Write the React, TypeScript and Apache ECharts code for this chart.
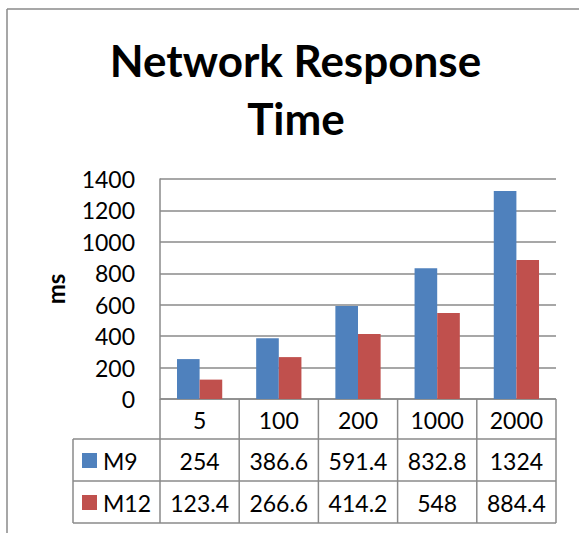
import React, { useEffect, useRef } from "react";
import * as echarts from "echarts";

// Load sizes (requests) and measured response times in ms
const categories = ["5", "100", "200", "1000", "2000"];
const seriesNames = ["M9", "M12"];
const m9Values = [254, 386.6, 591.4, 832.8, 1324];
const m12Values = [123.4, 266.6, 414.2, 548, 884.4];
const seriesColors = ["#4F81BD", "#C0504D"];

const FONT = "Lato, 'Noto Sans', sans-serif";
const LINE = "#8a8a8a";

// plot frame
const G_LEFT = 160;
const G_TOP = 179;
const G_W = 396;
const G_H = 220;
const G_BOTTOM = G_TOP + G_H;
const G_RIGHT = G_LEFT + G_W;

// data table under the plot
const LEGEND_LEFT = 73;
const ROW_EDGES = [G_BOTTOM, 439, 481, 523];

export default function App() {
  const ref = useRef<HTMLDivElement>(null);

  useEffect(() => {
    if (!ref.current) return;
    const chart = echarts.init(ref.current, undefined, { renderer: "svg" });

    const colW = G_W / categories.length;
    const graphics: any[] = [];
    const line = (x1: number, y1: number, x2: number, y2: number, w = 1.5) => ({
      type: "line",
      shape: { x1, y1, x2, y2 },
      style: { stroke: LINE, lineWidth: w },
      silent: true,
    });

    // outer chart frame (top and left edges)
    graphics.push(line(7, 9, 579, 9));
    graphics.push(line(7, 9, 7, 533));

    // title
    graphics.push({
      type: "text",
      x: 295.5,
      y: 60,
      style: {
        text: "Network Response",
        font: `bold 44px ${FONT}`,
        fill: "#000",
        align: "center",
        verticalAlign: "middle",
      },
    });
    graphics.push({
      type: "text",
      x: 296,
      y: 118,
      style: {
        text: "Time",
        font: `bold 44px ${FONT}`,
        fill: "#000",
        align: "center",
        verticalAlign: "middle",
      },
    });

    // table grid lines
    graphics.push(line(G_LEFT, ROW_EDGES[0], G_RIGHT, ROW_EDGES[0]));
    for (let r = 1; r < ROW_EDGES.length; r++) {
      graphics.push(line(LEGEND_LEFT, ROW_EDGES[r], G_RIGHT, ROW_EDGES[r]));
    }
    graphics.push(line(LEGEND_LEFT, ROW_EDGES[1], LEGEND_LEFT, ROW_EDGES[3]));
    for (let i = 0; i <= categories.length; i++) {
      const x = G_LEFT + i * colW;
      graphics.push(line(x, ROW_EDGES[0], x, ROW_EDGES[3]));
    }

    const cellText = (text: string, x: number, y: number, align = "center") => ({
      type: "text",
      x,
      y,
      style: {
        text,
        font: `23px ${FONT}`,
        fill: "#000",
        align,
        verticalAlign: "middle",
      },
    });

    // header row: categories
    categories.forEach((c, i) => {
      graphics.push(cellText(c, G_LEFT + (i + 0.5) * colW, (ROW_EDGES[0] + ROW_EDGES[1]) / 2 + 1));
    });

    // value rows with legend keys
    const rows = [m9Values, m12Values];
    rows.forEach((vals, r) => {
      const yMid = (ROW_EDGES[r + 1] + ROW_EDGES[r + 2]) / 2 + 1;
      graphics.push({
        type: "rect",
        shape: { x: 82, y: yMid - 8, width: 15, height: 15 },
        style: { fill: seriesColors[r] },
      });
      graphics.push(cellText(seriesNames[r], 103, yMid, "left"));
      vals.forEach((v, i) => {
        graphics.push(cellText(String(v), G_LEFT + (i + 0.5) * colW, yMid));
      });
    });

    chart.setOption({
      animation: false,
      backgroundColor: "#fff",
      grid: { left: G_LEFT, top: G_TOP, width: G_W, height: G_H, containLabel: false },
      xAxis: {
        type: "category",
        data: categories,
        axisLine: { show: false },
        axisTick: { show: false },
        axisLabel: { show: false },
      },
      yAxis: {
        type: "value",
        min: 0,
        max: 1400,
        interval: 200,
        name: "ms",
        nameLocation: "middle",
        nameGap: 93,
        nameRotate: 90,
        nameTextStyle: {
          fontFamily: FONT,
          fontSize: 24,
          fontWeight: "bold",
          color: "#000",
        },
        axisLine: { show: true, lineStyle: { color: LINE, width: 1.5 } },
        axisTick: { show: false },
        axisLabel: {
          margin: 25,
          fontFamily: FONT,
          fontSize: 23,
          color: "#000",
          formatter: (v: number) => String(v),
        },
        splitLine: { lineStyle: { color: LINE, width: 1.5 } },
      },
      series: [
        {
          name: seriesNames[0],
          type: "bar",
          data: m9Values,
          itemStyle: { color: seriesColors[0] },
          barGap: "0%",
          barCategoryGap: "42.857%",
        },
        {
          name: seriesNames[1],
          type: "bar",
          data: m12Values,
          itemStyle: { color: seriesColors[1] },
          barGap: "0%",
          barCategoryGap: "42.857%",
        },
      ],
      graphic: graphics,
    });

    return () => chart.dispose();
  }, []);

  return (
    <div
      ref={ref}
      style={{ position: "fixed", left: 0, top: 0, width: 579, height: 533 }}
    />
  );
}
